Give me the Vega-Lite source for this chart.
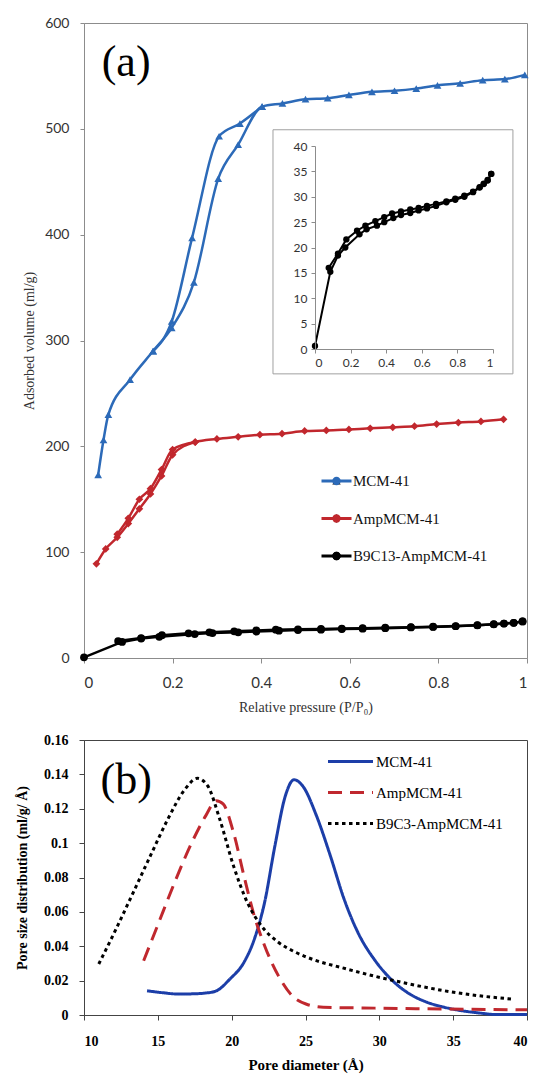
{
  "$schema": "https://vega.github.io/schema/vega-lite/v6.json",
  "background": "white",
  "padding": {"left": 15, "top": 15, "right": 5, "bottom": 5},
  "spacing": 17,
  "config": {
    "view": {"stroke": null},
    "axis": {"grid": false, "domainWidth": 1, "tickWidth": 1, "labelOverlap": false}
  },
  "resolve": {
    "scale": {"color": "independent", "strokeDash": "independent", "shape": "independent"},
    "legend": {"color": "independent", "strokeDash": "independent", "shape": "independent"}
  },
  "datasets": {
    "iso": [
      {"s": "MCM-41", "b": "ads", "p": 0.032, "v": 173},
      {"s": "MCM-41", "b": "ads", "p": 0.044, "v": 206},
      {"s": "MCM-41", "b": "ads", "p": 0.055, "v": 230},
      {"s": "MCM-41", "b": "ads", "p": 0.104, "v": 263},
      {"s": "MCM-41", "b": "ads", "p": 0.156, "v": 290},
      {"s": "MCM-41", "b": "ads", "p": 0.198, "v": 312},
      {"s": "MCM-41", "b": "ads", "p": 0.248, "v": 355},
      {"s": "MCM-41", "b": "ads", "p": 0.303, "v": 453},
      {"s": "MCM-41", "b": "ads", "p": 0.348, "v": 485},
      {"s": "MCM-41", "b": "ads", "p": 0.402, "v": 521},
      {"s": "MCM-41", "b": "ads", "p": 0.448, "v": 524},
      {"s": "MCM-41", "b": "ads", "p": 0.5, "v": 528},
      {"s": "MCM-41", "b": "ads", "p": 0.55, "v": 529},
      {"s": "MCM-41", "b": "ads", "p": 0.598, "v": 532},
      {"s": "MCM-41", "b": "ads", "p": 0.65, "v": 535},
      {"s": "MCM-41", "b": "ads", "p": 0.701, "v": 536},
      {"s": "MCM-41", "b": "ads", "p": 0.75, "v": 538},
      {"s": "MCM-41", "b": "ads", "p": 0.798, "v": 541},
      {"s": "MCM-41", "b": "ads", "p": 0.849, "v": 543},
      {"s": "MCM-41", "b": "ads", "p": 0.9, "v": 546},
      {"s": "MCM-41", "b": "ads", "p": 0.95, "v": 547},
      {"s": "MCM-41", "b": "ads", "p": 0.995, "v": 551},
      {"s": "MCM-41", "b": "des", "p": 0.402, "v": 521},
      {"s": "MCM-41", "b": "des", "p": 0.352, "v": 505},
      {"s": "MCM-41", "b": "des", "p": 0.305, "v": 493},
      {"s": "MCM-41", "b": "des", "p": 0.244, "v": 397},
      {"s": "MCM-41", "b": "des", "p": 0.198, "v": 318},
      {"s": "MCM-41", "b": "des", "p": 0.156, "v": 290},
      {"s": "AmpMCM-41", "b": "ads", "p": 0.028, "v": 89},
      {"s": "AmpMCM-41", "b": "ads", "p": 0.049, "v": 103},
      {"s": "AmpMCM-41", "b": "ads", "p": 0.075, "v": 114},
      {"s": "AmpMCM-41", "b": "ads", "p": 0.1, "v": 127},
      {"s": "AmpMCM-41", "b": "ads", "p": 0.125, "v": 141},
      {"s": "AmpMCM-41", "b": "ads", "p": 0.15, "v": 155},
      {"s": "AmpMCM-41", "b": "ads", "p": 0.175, "v": 172},
      {"s": "AmpMCM-41", "b": "ads", "p": 0.2, "v": 192},
      {"s": "AmpMCM-41", "b": "ads", "p": 0.251, "v": 204},
      {"s": "AmpMCM-41", "b": "ads", "p": 0.3, "v": 207},
      {"s": "AmpMCM-41", "b": "ads", "p": 0.348, "v": 209},
      {"s": "AmpMCM-41", "b": "ads", "p": 0.397, "v": 211},
      {"s": "AmpMCM-41", "b": "ads", "p": 0.447, "v": 212},
      {"s": "AmpMCM-41", "b": "ads", "p": 0.498, "v": 214.5},
      {"s": "AmpMCM-41", "b": "ads", "p": 0.547, "v": 215},
      {"s": "AmpMCM-41", "b": "ads", "p": 0.598, "v": 216},
      {"s": "AmpMCM-41", "b": "ads", "p": 0.646, "v": 217},
      {"s": "AmpMCM-41", "b": "ads", "p": 0.697, "v": 218},
      {"s": "AmpMCM-41", "b": "ads", "p": 0.746, "v": 219},
      {"s": "AmpMCM-41", "b": "ads", "p": 0.796, "v": 221},
      {"s": "AmpMCM-41", "b": "ads", "p": 0.845, "v": 222.5},
      {"s": "AmpMCM-41", "b": "ads", "p": 0.896, "v": 223.5},
      {"s": "AmpMCM-41", "b": "ads", "p": 0.947, "v": 225.5},
      {"s": "AmpMCM-41", "b": "des", "p": 0.251, "v": 204},
      {"s": "AmpMCM-41", "b": "des", "p": 0.2, "v": 197},
      {"s": "AmpMCM-41", "b": "des", "p": 0.175, "v": 178},
      {"s": "AmpMCM-41", "b": "des", "p": 0.15, "v": 160},
      {"s": "AmpMCM-41", "b": "des", "p": 0.125, "v": 150},
      {"s": "AmpMCM-41", "b": "des", "p": 0.1, "v": 132},
      {"s": "AmpMCM-41", "b": "des", "p": 0.075, "v": 117},
      {"s": "B9C13-AmpMCM-41", "b": "ads", "p": 0.0, "v": 0.6},
      {"s": "B9C13-AmpMCM-41", "b": "ads", "p": 0.086, "v": 15.2},
      {"s": "B9C13-AmpMCM-41", "b": "ads", "p": 0.129, "v": 18.4},
      {"s": "B9C13-AmpMCM-41", "b": "ads", "p": 0.17, "v": 20.0},
      {"s": "B9C13-AmpMCM-41", "b": "ads", "p": 0.25, "v": 22.6},
      {"s": "B9C13-AmpMCM-41", "b": "ads", "p": 0.29, "v": 23.6},
      {"s": "B9C13-AmpMCM-41", "b": "ads", "p": 0.348, "v": 24.3},
      {"s": "B9C13-AmpMCM-41", "b": "ads", "p": 0.389, "v": 25.0},
      {"s": "B9C13-AmpMCM-41", "b": "ads", "p": 0.44, "v": 25.8},
      {"s": "B9C13-AmpMCM-41", "b": "ads", "p": 0.483, "v": 26.4},
      {"s": "B9C13-AmpMCM-41", "b": "ads", "p": 0.535, "v": 26.8},
      {"s": "B9C13-AmpMCM-41", "b": "ads", "p": 0.582, "v": 27.3},
      {"s": "B9C13-AmpMCM-41", "b": "ads", "p": 0.629, "v": 27.7},
      {"s": "B9C13-AmpMCM-41", "b": "ads", "p": 0.68, "v": 28.2},
      {"s": "B9C13-AmpMCM-41", "b": "ads", "p": 0.738, "v": 28.9},
      {"s": "B9C13-AmpMCM-41", "b": "ads", "p": 0.788, "v": 29.4},
      {"s": "B9C13-AmpMCM-41", "b": "ads", "p": 0.839, "v": 30.0},
      {"s": "B9C13-AmpMCM-41", "b": "ads", "p": 0.888, "v": 30.9},
      {"s": "B9C13-AmpMCM-41", "b": "ads", "p": 0.925, "v": 31.8},
      {"s": "B9C13-AmpMCM-41", "b": "ads", "p": 0.948, "v": 32.5},
      {"s": "B9C13-AmpMCM-41", "b": "ads", "p": 0.97, "v": 33.2},
      {"s": "B9C13-AmpMCM-41", "b": "ads", "p": 0.99, "v": 34.5},
      {"s": "B9C13-AmpMCM-41", "b": "des", "p": 0.99, "v": 34.5},
      {"s": "B9C13-AmpMCM-41", "b": "des", "p": 0.97, "v": 33.3},
      {"s": "B9C13-AmpMCM-41", "b": "des", "p": 0.948, "v": 32.6},
      {"s": "B9C13-AmpMCM-41", "b": "des", "p": 0.925, "v": 31.9},
      {"s": "B9C13-AmpMCM-41", "b": "des", "p": 0.888, "v": 31.0},
      {"s": "B9C13-AmpMCM-41", "b": "des", "p": 0.839, "v": 30.2},
      {"s": "B9C13-AmpMCM-41", "b": "des", "p": 0.788, "v": 29.6},
      {"s": "B9C13-AmpMCM-41", "b": "des", "p": 0.738, "v": 29.1},
      {"s": "B9C13-AmpMCM-41", "b": "des", "p": 0.68, "v": 28.6},
      {"s": "B9C13-AmpMCM-41", "b": "des", "p": 0.629, "v": 28.2},
      {"s": "B9C13-AmpMCM-41", "b": "des", "p": 0.582, "v": 27.8},
      {"s": "B9C13-AmpMCM-41", "b": "des", "p": 0.535, "v": 27.5},
      {"s": "B9C13-AmpMCM-41", "b": "des", "p": 0.483, "v": 27.1},
      {"s": "B9C13-AmpMCM-41", "b": "des", "p": 0.433, "v": 26.7},
      {"s": "B9C13-AmpMCM-41", "b": "des", "p": 0.389, "v": 26.0},
      {"s": "B9C13-AmpMCM-41", "b": "des", "p": 0.339, "v": 25.2},
      {"s": "B9C13-AmpMCM-41", "b": "des", "p": 0.283, "v": 24.3},
      {"s": "B9C13-AmpMCM-41", "b": "des", "p": 0.236, "v": 23.3},
      {"s": "B9C13-AmpMCM-41", "b": "des", "p": 0.176, "v": 21.6},
      {"s": "B9C13-AmpMCM-41", "b": "des", "p": 0.129, "v": 18.8},
      {"s": "B9C13-AmpMCM-41", "b": "des", "p": 0.077, "v": 16.0}
    ],
    "psd": [
      {"s": "MCM-41", "d": 14.27, "q": 0.0141},
      {"s": "MCM-41", "d": 15.3, "q": 0.0130},
      {"s": "MCM-41", "d": 16.38, "q": 0.0122},
      {"s": "MCM-41", "d": 17.3, "q": 0.0123},
      {"s": "MCM-41", "d": 18.25, "q": 0.0128},
      {"s": "MCM-41", "d": 18.95, "q": 0.0140},
      {"s": "MCM-41", "d": 19.89, "q": 0.021},
      {"s": "MCM-41", "d": 20.83, "q": 0.0306},
      {"s": "MCM-41", "d": 21.53, "q": 0.044},
      {"s": "MCM-41", "d": 22.23, "q": 0.0655},
      {"s": "MCM-41", "d": 22.93, "q": 0.0985},
      {"s": "MCM-41", "d": 23.64, "q": 0.1276},
      {"s": "MCM-41", "d": 24.22, "q": 0.1369},
      {"s": "MCM-41", "d": 24.8, "q": 0.1334},
      {"s": "MCM-41", "d": 25.74, "q": 0.116},
      {"s": "MCM-41", "d": 26.68, "q": 0.0927},
      {"s": "MCM-41", "d": 27.61, "q": 0.0675},
      {"s": "MCM-41", "d": 28.55, "q": 0.048},
      {"s": "MCM-41", "d": 29.72, "q": 0.0316},
      {"s": "MCM-41", "d": 30.89, "q": 0.02},
      {"s": "MCM-41", "d": 32.06, "q": 0.0122},
      {"s": "MCM-41", "d": 33.23, "q": 0.0074},
      {"s": "MCM-41", "d": 34.4, "q": 0.0045},
      {"s": "MCM-41", "d": 35.57, "q": 0.0025},
      {"s": "MCM-41", "d": 36.74, "q": 0.0012},
      {"s": "MCM-41", "d": 37.9, "q": 0.0003},
      {"s": "MCM-41", "d": 40, "q": 0.0003},
      {"s": "AmpMCM-41", "d": 14.04, "q": 0.0316},
      {"s": "AmpMCM-41", "d": 14.98, "q": 0.052},
      {"s": "AmpMCM-41", "d": 16.14, "q": 0.0772},
      {"s": "AmpMCM-41", "d": 17.31, "q": 0.1005},
      {"s": "AmpMCM-41", "d": 18.25, "q": 0.116},
      {"s": "AmpMCM-41", "d": 18.95, "q": 0.1247},
      {"s": "AmpMCM-41", "d": 19.42, "q": 0.1228},
      {"s": "AmpMCM-41", "d": 20.12, "q": 0.1063},
      {"s": "AmpMCM-41", "d": 20.83, "q": 0.081},
      {"s": "AmpMCM-41", "d": 21.52, "q": 0.058},
      {"s": "AmpMCM-41", "d": 22.23, "q": 0.0403},
      {"s": "AmpMCM-41", "d": 23.16, "q": 0.0229},
      {"s": "AmpMCM-41", "d": 24.1, "q": 0.0112},
      {"s": "AmpMCM-41", "d": 25.03, "q": 0.0064},
      {"s": "AmpMCM-41", "d": 26.2, "q": 0.0045},
      {"s": "AmpMCM-41", "d": 29.7, "q": 0.004},
      {"s": "AmpMCM-41", "d": 34.4, "q": 0.0035},
      {"s": "AmpMCM-41", "d": 40, "q": 0.003},
      {"s": "B9C3-AmpMCM-41", "d": 11.0, "q": 0.0297},
      {"s": "B9C3-AmpMCM-41", "d": 12.17, "q": 0.05},
      {"s": "B9C3-AmpMCM-41", "d": 13.34, "q": 0.0714},
      {"s": "B9C3-AmpMCM-41", "d": 14.5, "q": 0.0927},
      {"s": "B9C3-AmpMCM-41", "d": 15.68, "q": 0.114},
      {"s": "B9C3-AmpMCM-41", "d": 16.85, "q": 0.1315},
      {"s": "B9C3-AmpMCM-41", "d": 17.67, "q": 0.1377},
      {"s": "B9C3-AmpMCM-41", "d": 18.37, "q": 0.1334},
      {"s": "B9C3-AmpMCM-41", "d": 19.19, "q": 0.114},
      {"s": "B9C3-AmpMCM-41", "d": 20.12, "q": 0.0869},
      {"s": "B9C3-AmpMCM-41", "d": 21.06, "q": 0.0655},
      {"s": "B9C3-AmpMCM-41", "d": 22.0, "q": 0.052},
      {"s": "B9C3-AmpMCM-41", "d": 23.16, "q": 0.0423},
      {"s": "B9C3-AmpMCM-41", "d": 24.33, "q": 0.0365},
      {"s": "B9C3-AmpMCM-41", "d": 25.74, "q": 0.0316},
      {"s": "B9C3-AmpMCM-41", "d": 27.38, "q": 0.0277},
      {"s": "B9C3-AmpMCM-41", "d": 29.72, "q": 0.0225},
      {"s": "B9C3-AmpMCM-41", "d": 32.06, "q": 0.018},
      {"s": "B9C3-AmpMCM-41", "d": 34.4, "q": 0.0141},
      {"s": "B9C3-AmpMCM-41", "d": 36.74, "q": 0.0112},
      {"s": "B9C3-AmpMCM-41", "d": 38.96, "q": 0.0093}
    ]
  },
  "vconcat": [
    {
      "width": 443,
      "height": 635,
      "view": {"stroke": "#8c8c8c", "strokeWidth": 1},
      "layer": [
        {
          "data": {"name": "iso"},
          "layer": [
            {
              "transform": [{"filter": "datum.s !== 'B9C13-AmpMCM-41'"}],
              "mark": {"type": "line", "strokeWidth": 2.5, "interpolate": "monotone"},
              "encoding": {
                "x": {"field": "p", "type": "quantitative", "scale": {"domain": [0, 1], "nice": false, "zero": false},
                  "axis": {"orient": "bottom", "title": "Relative pressure  (P/P₀)", "values": [0, 0.2, 0.4, 0.6, 0.8, 1], "format": "~g",
                    "labelFont": "Lato", "labelFontSize": 15, "labelColor": "#333", "labelPadding": 12, "tickSize": 5,
                    "domainColor": "#8c8c8c", "tickColor": "#8c8c8c",
                    "titleFont": "Liberation Serif", "titleFontSize": 14, "titleFontWeight": "normal", "titleColor": "#333", "titlePadding": 10}},
                "y": {"field": "v", "type": "quantitative", "scale": {"domain": [0, 600], "nice": false},
                  "axis": {"orient": "left", "title": "Adsorbed volume (ml/g)", "values": [0, 100, 200, 300, 400, 500, 600],
                    "labelFont": "Lato", "labelFontSize": 14, "labelColor": "#333", "labelPadding": 11, "tickSize": 4,
                    "domainColor": "#8c8c8c", "tickColor": "#8c8c8c",
                    "titleFont": "Liberation Serif", "titleFontSize": 14, "titleFontWeight": "normal", "titleColor": "#333", "titlePadding": 8}},
                "detail": {"field": "b"},
                "color": {"field": "s", "type": "nominal",
                  "scale": {"domain": ["MCM-41", "AmpMCM-41", "B9C13-AmpMCM-41"], "range": ["#2c6ab8", "#c1272d", "#000000"]},
                  "legend": {"orient": "none", "legendX": 236, "legendY": 448, "title": null, "padding": 0,
                    "symbolType": "stroke", "symbolSize": 900, "symbolStrokeWidth": 3, "clipHeight": 20, "rowPadding": 17.5,
                    "labelOffset": 0, "labelFont": "Liberation Serif", "labelFontSize": 15, "labelColor": "#111"}}
              }
            },
            {
              "transform": [{"filter": "datum.s === 'B9C13-AmpMCM-41'"}],
              "mark": {"type": "line", "strokeWidth": 2.5, "color": "#000"},
              "encoding": {
                "x": {"field": "p", "type": "quantitative", "scale": {"domain": [0, 1], "nice": false, "zero": false},
                  "axis": {"orient": "bottom", "title": "Relative pressure  (P/P₀)", "values": [0, 0.2, 0.4, 0.6, 0.8, 1], "format": "~g",
                    "labelFont": "Lato", "labelFontSize": 15, "labelColor": "#333", "labelPadding": 12, "tickSize": 5,
                    "domainColor": "#8c8c8c", "tickColor": "#8c8c8c",
                    "titleFont": "Liberation Serif", "titleFontSize": 14, "titleFontWeight": "normal", "titleColor": "#333", "titlePadding": 10}},
                "y": {"field": "v", "type": "quantitative", "scale": {"domain": [0, 600], "nice": false},
                  "axis": {"orient": "left", "title": "Adsorbed volume (ml/g)", "values": [0, 100, 200, 300, 400, 500, 600],
                    "labelFont": "Lato", "labelFontSize": 14, "labelColor": "#333", "labelPadding": 11, "tickSize": 4,
                    "domainColor": "#8c8c8c", "tickColor": "#8c8c8c",
                    "titleFont": "Liberation Serif", "titleFontSize": 14, "titleFontWeight": "normal", "titleColor": "#333", "titlePadding": 8}},
                "detail": {"field": "b"}
              }
            },
            {
              "mark": {"type": "point", "filled": true, "opacity": 1, "size": 60},
              "encoding": {
                "x": {"field": "p", "type": "quantitative", "scale": {"domain": [0, 1], "nice": false, "zero": false},
                  "axis": {"orient": "bottom", "title": "Relative pressure  (P/P₀)", "values": [0, 0.2, 0.4, 0.6, 0.8, 1], "format": "~g",
                    "labelFont": "Lato", "labelFontSize": 15, "labelColor": "#333", "labelPadding": 12, "tickSize": 5,
                    "domainColor": "#8c8c8c", "tickColor": "#8c8c8c",
                    "titleFont": "Liberation Serif", "titleFontSize": 14, "titleFontWeight": "normal", "titleColor": "#333", "titlePadding": 10}},
                "y": {"field": "v", "type": "quantitative", "scale": {"domain": [0, 600], "nice": false},
                  "axis": {"orient": "left", "title": "Adsorbed volume (ml/g)", "values": [0, 100, 200, 300, 400, 500, 600],
                    "labelFont": "Lato", "labelFontSize": 14, "labelColor": "#333", "labelPadding": 11, "tickSize": 4,
                    "domainColor": "#8c8c8c", "tickColor": "#8c8c8c",
                    "titleFont": "Liberation Serif", "titleFontSize": 14, "titleFontWeight": "normal", "titleColor": "#333", "titlePadding": 8}},
                "color": {"field": "s", "type": "nominal",
                  "scale": {"domain": ["MCM-41", "AmpMCM-41", "B9C13-AmpMCM-41"], "range": ["#2c6ab8", "#c1272d", "#000000"]},
                  "legend": {"orient": "none", "legendX": 245, "legendY": 448, "title": null, "padding": 0,
                    "symbolSize": 70, "symbolStrokeWidth": 0, "clipHeight": 20, "rowPadding": 17.5,
                    "labelOffset": 0, "labelExpr": "''", "labelFont": "Liberation Serif", "labelFontSize": 15}},
                "shape": {"field": "s", "type": "nominal",
                  "scale": {"domain": ["MCM-41", "AmpMCM-41", "B9C13-AmpMCM-41"], "range": ["triangle-up", "diamond", "circle"]},
                  "legend": {"orient": "none", "legendX": 245, "legendY": 448, "title": null, "padding": 0,
                    "symbolSize": 70, "symbolStrokeWidth": 0, "clipHeight": 20, "rowPadding": 17.5,
                    "labelOffset": 0, "labelExpr": "''", "labelFont": "Liberation Serif", "labelFontSize": 15}}
              }
            },
            {
              "data": {"values": [{"label": "(a)"}]},
              "mark": {"type": "text", "font": "Liberation Serif", "fontSize": 44, "align": "left", "baseline": "middle", "color": "#000"},
              "encoding": {
                "x": {"datum": 0.04, "type": "quantitative", "scale": {"domain": [0, 1], "nice": false, "zero": false},
                  "axis": {"orient": "bottom", "title": "Relative pressure  (P/P₀)", "values": [0, 0.2, 0.4, 0.6, 0.8, 1], "format": "~g",
                    "labelFont": "Lato", "labelFontSize": 15, "labelColor": "#333", "labelPadding": 12, "tickSize": 5,
                    "domainColor": "#8c8c8c", "tickColor": "#8c8c8c",
                    "titleFont": "Liberation Serif", "titleFontSize": 14, "titleFontWeight": "normal", "titleColor": "#333", "titlePadding": 10}},
                "y": {"datum": 562, "type": "quantitative", "scale": {"domain": [0, 600], "nice": false},
                  "axis": {"orient": "left", "title": "Adsorbed volume (ml/g)", "values": [0, 100, 200, 300, 400, 500, 600],
                    "labelFont": "Lato", "labelFontSize": 14, "labelColor": "#333", "labelPadding": 11, "tickSize": 4,
                    "domainColor": "#8c8c8c", "tickColor": "#8c8c8c",
                    "titleFont": "Liberation Serif", "titleFontSize": 14, "titleFontWeight": "normal", "titleColor": "#333", "titlePadding": 8}},
                "text": {"field": "label"}
              }
            }
          ],
          "resolve": {"scale": {"color": "independent"}, "legend": {"color": "independent"}}
        },
        {
          "layer": [
            {
              "data": {"values": [{"box": "inset"}]},
              "mark": {"type": "rect", "fill": "white", "stroke": "#a0a0a0", "strokeWidth": 1},
              "encoding": {
                "x": {"datum": -0.236, "type": "quantitative", "scale": {"domain": [0, 1], "range": [231, 409], "nice": false, "zero": false},
                  "axis": {"orient": "bottom", "offset": -309, "zindex": 1, "title": null, "values": [0, 0.2, 0.4, 0.6, 0.8, 1], "format": "~g",
                    "labelFont": "Lato", "labelFontSize": 12, "labelColor": "#333", "labelPadding": 4, "tickSize": 4,
                    "domainColor": "#8c8c8c", "tickColor": "#8c8c8c"}},
                "x2": {"datum": 1.112},
                "y": {"datum": -4.9, "type": "quantitative", "scale": {"domain": [0, 40], "range": [326, 123], "nice": false},
                  "axis": {"orient": "left", "offset": -231, "zindex": 1, "title": null, "values": [0, 5, 10, 15, 20, 25, 30, 35, 40],
                    "labelFont": "Lato", "labelFontSize": 12, "labelColor": "#333", "labelPadding": 4, "tickSize": 4,
                    "domainColor": "#8c8c8c", "tickColor": "#8c8c8c"}},
                "y2": {"datum": 43.2}
              }
            },
            {
              "data": {"name": "iso"},
              "transform": [{"filter": "datum.s === 'B9C13-AmpMCM-41'"}],
              "mark": {"type": "line", "strokeWidth": 2, "color": "#000"},
              "encoding": {
                "x": {"field": "p", "type": "quantitative", "scale": {"domain": [0, 1], "range": [231, 409], "nice": false, "zero": false},
                  "axis": {"orient": "bottom", "offset": -309, "zindex": 1, "title": null, "values": [0, 0.2, 0.4, 0.6, 0.8, 1], "format": "~g",
                    "labelFont": "Lato", "labelFontSize": 12, "labelColor": "#333", "labelPadding": 4, "tickSize": 4,
                    "domainColor": "#8c8c8c", "tickColor": "#8c8c8c"}},
                "y": {"field": "v", "type": "quantitative", "scale": {"domain": [0, 40], "range": [326, 123], "nice": false},
                  "axis": {"orient": "left", "offset": -231, "zindex": 1, "title": null, "values": [0, 5, 10, 15, 20, 25, 30, 35, 40],
                    "labelFont": "Lato", "labelFontSize": 12, "labelColor": "#333", "labelPadding": 4, "tickSize": 4,
                    "domainColor": "#8c8c8c", "tickColor": "#8c8c8c"}},
                "detail": {"field": "b"}
              }
            },
            {
              "data": {"name": "iso"},
              "transform": [{"filter": "datum.s === 'B9C13-AmpMCM-41'"}],
              "mark": {"type": "point", "filled": true, "opacity": 1, "size": 40, "shape": "circle", "color": "#000"},
              "encoding": {
                "x": {"field": "p", "type": "quantitative", "scale": {"domain": [0, 1], "range": [231, 409], "nice": false, "zero": false},
                  "axis": {"orient": "bottom", "offset": -309, "zindex": 1, "title": null, "values": [0, 0.2, 0.4, 0.6, 0.8, 1], "format": "~g",
                    "labelFont": "Lato", "labelFontSize": 12, "labelColor": "#333", "labelPadding": 4, "tickSize": 4,
                    "domainColor": "#8c8c8c", "tickColor": "#8c8c8c"}},
                "y": {"field": "v", "type": "quantitative", "scale": {"domain": [0, 40], "range": [326, 123], "nice": false},
                  "axis": {"orient": "left", "offset": -231, "zindex": 1, "title": null, "values": [0, 5, 10, 15, 20, 25, 30, 35, 40],
                    "labelFont": "Lato", "labelFontSize": 12, "labelColor": "#333", "labelPadding": 4, "tickSize": 4,
                    "domainColor": "#8c8c8c", "tickColor": "#8c8c8c"}}
              }
            }
          ]
        }
      ],
      "resolve": {"scale": {"x": "independent", "y": "independent"}, "axis": {"x": "independent", "y": "independent"}}
    },
    {
      "width": 443,
      "height": 275,
      "view": {"stroke": "#444", "strokeWidth": 1},
      "layer": [
        {
          "data": {"name": "psd"},
          "mark": {"type": "line", "strokeWidth": 3, "interpolate": "monotone"},
          "encoding": {
            "x": {"field": "d", "type": "quantitative", "scale": {"domain": [10, 40], "nice": false, "zero": false},
              "axis": {"title": "Pore diameter (Å)", "values": [10, 15, 20, 25, 30, 35, 40], "labelOverlap": false,
                "labelFont": "Liberation Serif", "labelFontSize": 14, "labelFontWeight": "bold", "labelColor": "#000", "labelPadding": 14, "tickSize": 5,
                "domainColor": "#444", "tickColor": "#444",
                "titleFont": "Liberation Serif", "titleFontSize": 15, "titleFontWeight": "bold", "titleColor": "#000", "titlePadding": 9}},
            "y": {"field": "q", "type": "quantitative", "scale": {"domain": [0, 0.16], "nice": false},
              "axis": {"title": "Pore size distribution (ml/g/ Å)", "values": [0, 0.02, 0.04, 0.06, 0.08, 0.1, 0.12, 0.14, 0.16], "format": "~g", "labelOverlap": false,
                "labelFont": "Liberation Serif", "labelFontSize": 14, "labelFontWeight": "bold", "labelColor": "#000", "labelPadding": 11, "tickSize": 5,
                "domainColor": "#444", "tickColor": "#444",
                "titleFont": "Liberation Serif", "titleFontSize": 14, "titleFontWeight": "bold", "titleColor": "#000", "titlePadding": 14}},
            "color": {"field": "s", "type": "nominal",
              "scale": {"domain": ["MCM-41", "AmpMCM-41", "B9C3-AmpMCM-41"], "range": ["#1c3ea8", "#c0282e", "#000000"]},
              "legend": {"orient": "none", "legendX": 242.5, "legendY": 11.6, "title": null, "padding": 0,
                "symbolType": "stroke", "symbolSize": 2025, "symbolStrokeWidth": 3, "clipHeight": 20, "rowPadding": 11,
                "labelOffset": 1.5, "labelFont": "Liberation Serif", "labelFontSize": 15, "labelColor": "#000"}},
            "strokeDash": {"field": "s", "type": "nominal",
              "scale": {"domain": ["MCM-41", "AmpMCM-41", "B9C3-AmpMCM-41"], "range": [[1, 0], [14, 8], [3.5, 3.5]]},
              "legend": {"orient": "none", "legendX": 242.5, "legendY": 11.6, "title": null, "padding": 0,
                "symbolType": "stroke", "symbolSize": 2025, "symbolStrokeWidth": 3, "clipHeight": 20, "rowPadding": 11,
                "labelOffset": 1.5, "labelFont": "Liberation Serif", "labelFontSize": 15, "labelColor": "#000"}}
          }
        },
        {
          "data": {"values": [{"label": "(b)"}]},
          "mark": {"type": "text", "font": "Liberation Serif", "fontSize": 44, "align": "left", "baseline": "middle", "color": "#000"},
          "encoding": {
            "x": {"datum": 11.12, "type": "quantitative", "scale": {"domain": [10, 40], "nice": false, "zero": false},
              "axis": {"title": "Pore diameter (Å)", "values": [10, 15, 20, 25, 30, 35, 40], "labelOverlap": false,
                "labelFont": "Liberation Serif", "labelFontSize": 14, "labelFontWeight": "bold", "labelColor": "#000", "labelPadding": 14, "tickSize": 5,
                "domainColor": "#444", "tickColor": "#444",
                "titleFont": "Liberation Serif", "titleFontSize": 15, "titleFontWeight": "bold", "titleColor": "#000", "titlePadding": 9}},
            "y": {"datum": 0.136, "type": "quantitative", "scale": {"domain": [0, 0.16], "nice": false},
              "axis": {"title": "Pore size distribution (ml/g/ Å)", "values": [0, 0.02, 0.04, 0.06, 0.08, 0.1, 0.12, 0.14, 0.16], "format": "~g", "labelOverlap": false,
                "labelFont": "Liberation Serif", "labelFontSize": 14, "labelFontWeight": "bold", "labelColor": "#000", "labelPadding": 11, "tickSize": 5,
                "domainColor": "#444", "tickColor": "#444",
                "titleFont": "Liberation Serif", "titleFontSize": 14, "titleFontWeight": "bold", "titleColor": "#000", "titlePadding": 14}},
            "text": {"field": "label"}
          }
        }
      ]
    }
  ]
}
